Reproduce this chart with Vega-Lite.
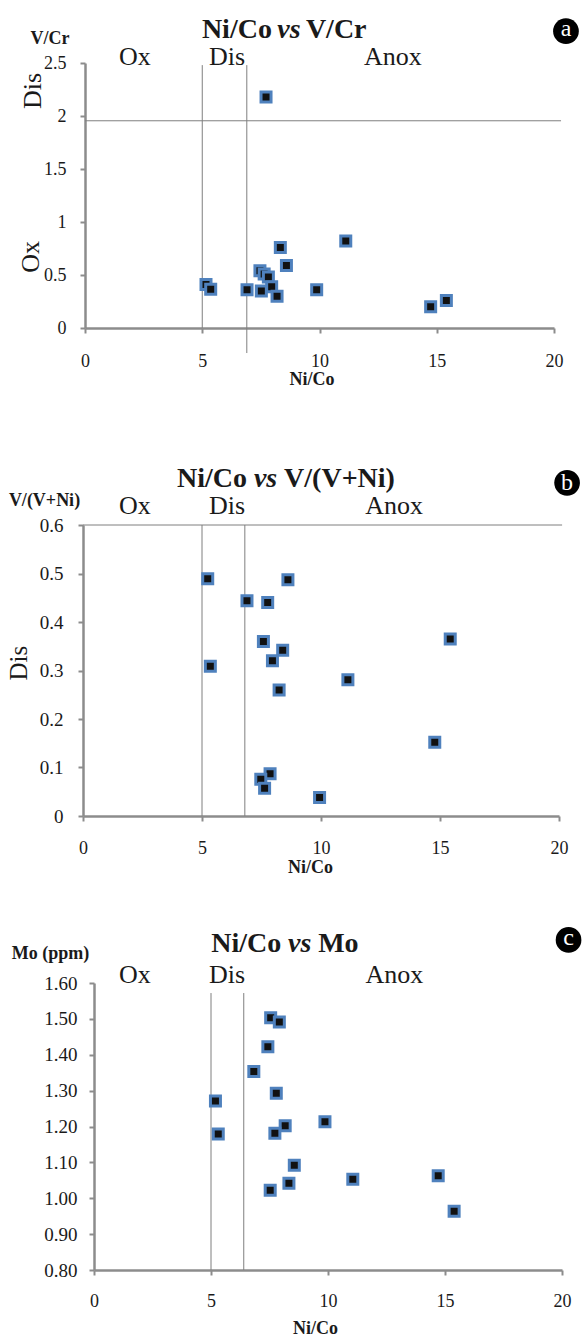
{
  "$schema": "https://vega.github.io/schema/vega-lite/v6.json",
  "padding": 0,
  "autosize": {"type": "pad"},
  "background": "white",
  "spacing": 0,
  "bounds": "flush",
  "config": {
    "view": {"stroke": null},
    "font": "Liberation Serif",
    "axis": {
      "domainColor": "#8c8c8c", "domainWidth": 2.5,
      "tickColor": "#8c8c8c", "tickWidth": 2, "tickSize": 5,
      "grid": false, "labelColor": "#1a1a1a", "titleColor": "#1a1a1a",
      "labelFont": "Liberation Serif", "titleFont": "Liberation Serif",
      "labelFlush": false, "labelOverlap": false
    },
    "text": {"color": "#1a1a1a", "font": "Liberation Serif"}
  },
  "vconcat": [
    {
      "width": 584, "height": 328,
      "layer": [
        {"data": {"values": [{}]}, "mark": {"type": "rule", "color": "#7f7f7f", "strokeWidth": 1}, "encoding": {"x": {"datum": 5}, "y": {"datum": 2.48}, "y2": {"datum": 0}}},
        {"data": {"values": [{}]}, "mark": {"type": "rule", "color": "#7f7f7f", "strokeWidth": 1}, "encoding": {"x": {"datum": 6.9}, "y": {"datum": 2.48}, "y2": {"datum": -0.236}}},
        {"data": {"values": [{}]}, "mark": {"type": "rule", "color": "#7f7f7f", "strokeWidth": 1}, "encoding": {"y": {"datum": 1.955}, "x": {"datum": 0}, "x2": {"datum": 20.3}}},
        {
          "data": {"values": [
            {"NiCo": 7.72, "VCr": 2.18}, {"NiCo": 11.12, "VCr": 0.82}, {"NiCo": 8.33, "VCr": 0.76},
            {"NiCo": 8.59, "VCr": 0.59}, {"NiCo": 7.46, "VCr": 0.54}, {"NiCo": 7.64, "VCr": 0.51},
            {"NiCo": 7.82, "VCr": 0.48}, {"NiCo": 7.96, "VCr": 0.39}, {"NiCo": 5.16, "VCr": 0.41},
            {"NiCo": 5.36, "VCr": 0.365}, {"NiCo": 6.91, "VCr": 0.36}, {"NiCo": 7.52, "VCr": 0.35},
            {"NiCo": 8.19, "VCr": 0.30}, {"NiCo": 9.88, "VCr": 0.36}, {"NiCo": 14.74, "VCr": 0.20},
            {"NiCo": 15.41, "VCr": 0.26}
          ]},
          "mark": {"type": "point", "shape": "square", "size": 100, "filled": true, "fill": "#111111", "stroke": "#4F81BD", "strokeWidth": 3, "opacity": 1},
          "encoding": {
            "x": {"field": "NiCo", "type": "quantitative",
              "scale": {"domain": [0, 20], "range": [85, 554], "nice": false, "zero": false},
              "axis": {"values": [0, 5, 10, 15, 20], "title": "Ni/Co", "titleFontWeight": "bold", "titleFontSize": 18,
                "titleX": 311.5, "titleY": 56, "titleBaseline": "alphabetic", "labelPadding": 19, "labelFontSize": 18,
                "labelFont": "Liberation Serif", "titleFont": "Liberation Serif"}},
            "y": {"field": "VCr", "type": "quantitative",
              "scale": {"domain": [0, 2.5], "range": [328, 63], "nice": false, "zero": false},
              "axis": {"values": [0, 0.5, 1, 1.5, 2, 2.5], "format": ".1~f", "offset": -85, "labelPadding": 14, "labelFontSize": 18,
                "labelFont": "Liberation Serif", "titleFont": "Liberation Serif",
                "title": "V/Cr", "titleAngle": 0, "titleX": -35.5, "titleY": 43, "titleFontSize": 18, "titleFontWeight": "bold",
                "titleBaseline": "alphabetic", "titleAlign": "center"}}
          }
        },
        {"data": {"values": [{}]}, "mark": {"type": "text", "text": "Ni/Co", "fontSize": 28, "fontWeight": "bold", "align": "right", "baseline": "alphabetic"}, "encoding": {"x": {"datum": 7.97}, "y": {"datum": 2.736}}},
        {"data": {"values": [{}]}, "mark": {"type": "text", "text": "vs", "fontSize": 28, "fontWeight": "bold", "fontStyle": "italic", "align": "center", "baseline": "alphabetic"}, "encoding": {"x": {"datum": 8.70}, "y": {"datum": 2.736}}},
        {"data": {"values": [{}]}, "mark": {"type": "text", "text": "V/Cr", "fontSize": 28, "fontWeight": "bold", "align": "left", "baseline": "alphabetic"}, "encoding": {"x": {"datum": 9.42}, "y": {"datum": 2.736}}},
        {"data": {"values": [{}]}, "mark": {"type": "point", "shape": "circle", "size": 660, "filled": true, "color": "black", "opacity": 1}, "encoding": {"x": {"datum": 20.51}, "y": {"datum": 2.80}}},
        {"data": {"values": [{}]}, "mark": {"type": "text", "text": "a", "fontSize": 24, "color": "white", "align": "center", "baseline": "middle", "dy": -2}, "encoding": {"x": {"datum": 20.51}, "y": {"datum": 2.80}}},
        {"data": {"values": [{}]}, "mark": {"type": "text", "text": "Ox", "fontSize": 26, "align": "center", "baseline": "alphabetic"}, "encoding": {"x": {"datum": 2.13}, "y": {"datum": 2.48}}},
        {"data": {"values": [{}]}, "mark": {"type": "text", "text": "Dis", "fontSize": 26, "align": "center", "baseline": "alphabetic"}, "encoding": {"x": {"datum": 6.06}, "y": {"datum": 2.48}}},
        {"data": {"values": [{}]}, "mark": {"type": "text", "text": "Anox", "fontSize": 26, "align": "center", "baseline": "alphabetic"}, "encoding": {"x": {"datum": 13.13}, "y": {"datum": 2.48}}},
        {"data": {"values": [{}]}, "mark": {"type": "text", "text": "Dis", "fontSize": 26, "angle": 270, "align": "center", "baseline": "middle"}, "encoding": {"x": {"datum": -2.22}, "y": {"datum": 2.236}}},
        {"data": {"values": [{}]}, "mark": {"type": "text", "text": "Ox", "fontSize": 26, "angle": 270, "align": "center", "baseline": "middle"}, "encoding": {"x": {"datum": -2.30}, "y": {"datum": 0.67}}}
      ]
    },
    {
      "width": 584, "height": 488,
      "layer": [
        {"data": {"values": [{}]}, "mark": {"type": "rule", "color": "#7f7f7f", "strokeWidth": 1}, "encoding": {"x": {"datum": 5}, "y": {"datum": 0.6}, "y2": {"datum": 0}}},
        {"data": {"values": [{}]}, "mark": {"type": "rule", "color": "#7f7f7f", "strokeWidth": 1}, "encoding": {"x": {"datum": 6.8}, "y": {"datum": 0.6}, "y2": {"datum": 0}}},
        {"data": {"values": [{}]}, "mark": {"type": "rule", "color": "#7f7f7f", "strokeWidth": 1}, "encoding": {"y": {"datum": 0.6}, "x": {"datum": 0}, "x2": {"datum": 20.13}}},
        {
          "data": {"values": [
            {"NiCo": 5.24, "VVNi": 0.489}, {"NiCo": 8.61, "VVNi": 0.487}, {"NiCo": 6.89, "VVNi": 0.444},
            {"NiCo": 7.76, "VVNi": 0.44}, {"NiCo": 7.58, "VVNi": 0.36}, {"NiCo": 8.39, "VVNi": 0.342},
            {"NiCo": 7.96, "VVNi": 0.32}, {"NiCo": 15.43, "VVNi": 0.365}, {"NiCo": 5.35, "VVNi": 0.309},
            {"NiCo": 11.13, "VVNi": 0.281}, {"NiCo": 8.24, "VVNi": 0.26}, {"NiCo": 14.78, "VVNi": 0.152},
            {"NiCo": 7.86, "VVNi": 0.087}, {"NiCo": 7.47, "VVNi": 0.076}, {"NiCo": 7.63, "VVNi": 0.057},
            {"NiCo": 9.94, "VVNi": 0.038}
          ]},
          "mark": {"type": "point", "shape": "square", "size": 100, "filled": true, "fill": "#111111", "stroke": "#4F81BD", "strokeWidth": 3, "opacity": 1},
          "encoding": {
            "x": {"field": "NiCo", "type": "quantitative",
              "scale": {"domain": [0, 20], "range": [83, 559], "nice": false, "zero": false},
              "axis": {"values": [0, 5, 10, 15, 20], "title": "Ni/Co", "titleFontWeight": "bold", "titleFontSize": 18,
                "titleX": 310, "titleY": 56, "titleBaseline": "alphabetic", "labelPadding": 18, "labelFontSize": 18,
                "labelFont": "Liberation Serif", "titleFont": "Liberation Serif"}},
            "y": {"field": "VVNi", "type": "quantitative",
              "scale": {"domain": [0, 0.6], "range": [488, 197], "nice": false, "zero": false},
              "axis": {"values": [0, 0.1, 0.2, 0.3, 0.4, 0.5, 0.6], "format": ".1~f", "offset": -83, "labelPadding": 15, "labelFontSize": 19,
                "labelFont": "Liberation Serif", "titleFont": "Liberation Serif",
                "title": "V/(V+Ni)", "titleAngle": 0, "titleX": -39, "titleY": 177, "titleFontSize": 18, "titleFontWeight": "bold",
                "titleBaseline": "alphabetic", "titleAlign": "center"}}
          }
        },
        {"data": {"values": [{}]}, "mark": {"type": "text", "text": "Ni/Co", "fontSize": 28, "fontWeight": "bold", "align": "right", "baseline": "alphabetic"}, "encoding": {"x": {"datum": 6.89}, "y": {"datum": 0.678}}},
        {"data": {"values": [{}]}, "mark": {"type": "text", "text": "vs", "fontSize": 28, "fontWeight": "bold", "fontStyle": "italic", "align": "center", "baseline": "alphabetic"}, "encoding": {"x": {"datum": 7.67}, "y": {"datum": 0.678}}},
        {"data": {"values": [{}]}, "mark": {"type": "text", "text": "V/(V+Ni)", "fontSize": 28, "fontWeight": "bold", "align": "left", "baseline": "alphabetic"}, "encoding": {"x": {"datum": 8.45}, "y": {"datum": 0.678}}},
        {"data": {"values": [{}]}, "mark": {"type": "point", "shape": "circle", "size": 660, "filled": true, "color": "black", "opacity": 1}, "encoding": {"x": {"datum": 20.34}, "y": {"datum": 0.687}}},
        {"data": {"values": [{}]}, "mark": {"type": "text", "text": "b", "fontSize": 24, "color": "white", "align": "center", "baseline": "middle", "dy": 0}, "encoding": {"x": {"datum": 20.34}, "y": {"datum": 0.687}}},
        {"data": {"values": [{}]}, "mark": {"type": "text", "text": "Ox", "fontSize": 26, "align": "center", "baseline": "alphabetic"}, "encoding": {"x": {"datum": 2.18}, "y": {"datum": 0.623}}},
        {"data": {"values": [{}]}, "mark": {"type": "text", "text": "Dis", "fontSize": 26, "align": "center", "baseline": "alphabetic"}, "encoding": {"x": {"datum": 6.05}, "y": {"datum": 0.623}}},
        {"data": {"values": [{}]}, "mark": {"type": "text", "text": "Anox", "fontSize": 26, "align": "center", "baseline": "alphabetic"}, "encoding": {"x": {"datum": 13.07}, "y": {"datum": 0.623}}},
        {"data": {"values": [{}]}, "mark": {"type": "text", "text": "Dis", "fontSize": 25, "angle": 270, "align": "center", "baseline": "middle"}, "encoding": {"x": {"datum": -2.69}, "y": {"datum": 0.315}}}
      ]
    },
    {
      "width": 584, "height": 454,
      "layer": [
        {"data": {"values": [{}]}, "mark": {"type": "rule", "color": "#7f7f7f", "strokeWidth": 1}, "encoding": {"x": {"datum": 5}, "y": {"datum": 1.572}, "y2": {"datum": 0.8}}},
        {"data": {"values": [{}]}, "mark": {"type": "rule", "color": "#7f7f7f", "strokeWidth": 1}, "encoding": {"x": {"datum": 6.4}, "y": {"datum": 1.572}, "y2": {"datum": 0.8}}},
        {
          "data": {"values": [
            {"NiCo": 7.55, "Mo": 1.503}, {"NiCo": 7.92, "Mo": 1.491}, {"NiCo": 7.43, "Mo": 1.422},
            {"NiCo": 6.83, "Mo": 1.353}, {"NiCo": 7.79, "Mo": 1.293}, {"NiCo": 5.19, "Mo": 1.271},
            {"NiCo": 9.87, "Mo": 1.213}, {"NiCo": 8.17, "Mo": 1.202}, {"NiCo": 7.73, "Mo": 1.181},
            {"NiCo": 5.31, "Mo": 1.179}, {"NiCo": 8.56, "Mo": 1.092}, {"NiCo": 11.06, "Mo": 1.053},
            {"NiCo": 14.71, "Mo": 1.063}, {"NiCo": 8.33, "Mo": 1.042}, {"NiCo": 7.53, "Mo": 1.022},
            {"NiCo": 15.39, "Mo": 0.964}
          ]},
          "mark": {"type": "point", "shape": "square", "size": 100, "filled": true, "fill": "#111111", "stroke": "#4F81BD", "strokeWidth": 3, "opacity": 1},
          "encoding": {
            "x": {"field": "NiCo", "type": "quantitative",
              "scale": {"domain": [0, 20], "range": [94, 562], "nice": false, "zero": false},
              "axis": {"values": [0, 5, 10, 15, 20], "title": "Ni/Co", "titleFontWeight": "bold", "titleFontSize": 18,
                "titleX": 315, "titleY": 63, "titleBaseline": "alphabetic", "labelPadding": 17, "labelFontSize": 18,
                "labelFont": "Liberation Serif", "titleFont": "Liberation Serif"}},
            "y": {"field": "Mo", "type": "quantitative",
              "scale": {"domain": [0.8, 1.6], "range": [454, 167], "nice": false, "zero": false},
              "axis": {"values": [0.8, 0.9, 1.0, 1.1, 1.2, 1.3, 1.4, 1.5, 1.6], "format": ".2f", "offset": -94, "labelPadding": 12, "labelFontSize": 19,
                "labelFont": "Liberation Serif", "titleFont": "Liberation Serif",
                "title": "Mo (ppm)", "titleAngle": 0, "titleX": -44, "titleY": 142, "titleFontSize": 18, "titleFontWeight": "bold",
                "titleBaseline": "alphabetic", "titleAlign": "center"}}
          }
        },
        {"data": {"values": [{}]}, "mark": {"type": "text", "text": "Ni/Co", "fontSize": 28, "fontWeight": "bold", "align": "right", "baseline": "alphabetic"}, "encoding": {"x": {"datum": 8.00}, "y": {"datum": 1.686}}},
        {"data": {"values": [{}]}, "mark": {"type": "text", "text": "vs", "fontSize": 28, "fontWeight": "bold", "fontStyle": "italic", "align": "center", "baseline": "alphabetic"}, "encoding": {"x": {"datum": 8.79}, "y": {"datum": 1.686}}},
        {"data": {"values": [{}]}, "mark": {"type": "text", "text": "Mo", "fontSize": 28, "fontWeight": "bold", "align": "left", "baseline": "alphabetic"}, "encoding": {"x": {"datum": 9.58}, "y": {"datum": 1.686}}},
        {"data": {"values": [{}]}, "mark": {"type": "point", "shape": "circle", "size": 660, "filled": true, "color": "black", "opacity": 1}, "encoding": {"x": {"datum": 20.28}, "y": {"datum": 1.72}}},
        {"data": {"values": [{}]}, "mark": {"type": "text", "text": "c", "fontSize": 24, "color": "white", "align": "center", "baseline": "middle", "dy": -2}, "encoding": {"x": {"datum": 20.28}, "y": {"datum": 1.72}}},
        {"data": {"values": [{}]}, "mark": {"type": "text", "text": "Ox", "fontSize": 26, "align": "center", "baseline": "alphabetic"}, "encoding": {"x": {"datum": 1.75}, "y": {"datum": 1.60}}},
        {"data": {"values": [{}]}, "mark": {"type": "text", "text": "Dis", "fontSize": 26, "align": "center", "baseline": "alphabetic"}, "encoding": {"x": {"datum": 5.69}, "y": {"datum": 1.60}}},
        {"data": {"values": [{}]}, "mark": {"type": "text", "text": "Anox", "fontSize": 26, "align": "center", "baseline": "alphabetic"}, "encoding": {"x": {"datum": 12.84}, "y": {"datum": 1.60}}}
      ]
    }
  ]
}
